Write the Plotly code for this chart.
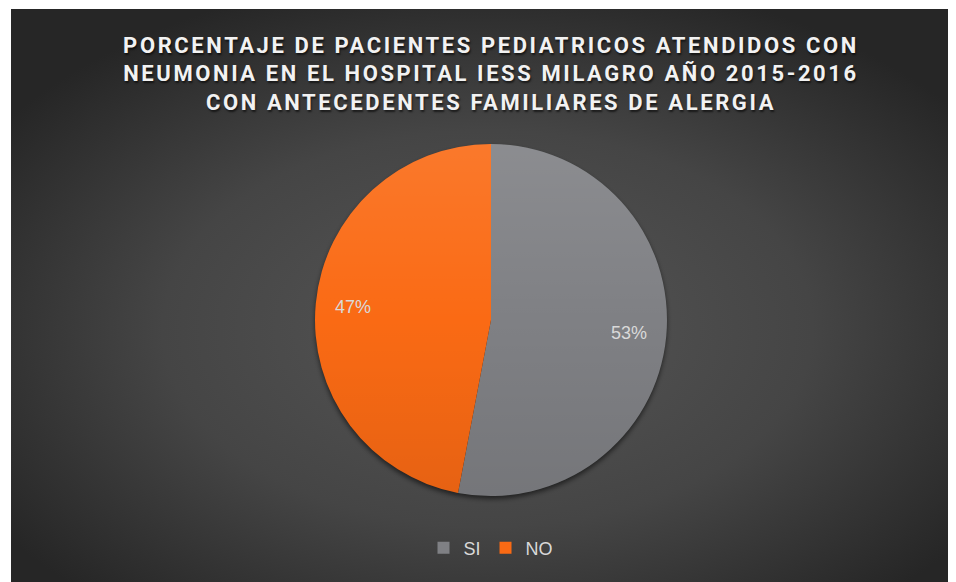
import base64
import math
import plotly.graph_objects as go

# ---- data ----
labels = ["SI", "NO"]
values = [53, 47]
colors = ["#7f8084", "#fa6a14"]
title_lines = [
    "PORCENTAJE DE PACIENTES PEDIATRICOS ATENDIDOS CON",
    "NEUMONIA EN EL HOSPITAL IESS MILAGRO AÑO 2015-2016",
    "CON ANTECEDENTES FAMILIARES DE ALERGIA",
]

W, H = 956, 582

# chart area (figure px) and pie geometry (figure px)
AX0, AY0 = 3, 1
CX, CY, R = 483, 312, 176
dom_x = [(CX - R) / W, (CX + R) / W]
dom_y = [1 - (CY + R) / H, 1 - (CY - R) / H]


def uri(svg):
    return "data:image/svg+xml;base64," + base64.b64encode(svg.encode()).decode()


AW, AH = W - AX0, H - AY0
bg_svg = (
    f"<svg xmlns='http://www.w3.org/2000/svg' width='{AW}' height='{AH}' viewBox='0 0 {AW} {AH}'>"
    "<defs><radialGradient id='g' cx='0.5' cy='0.55' r='0.62'>"
    "<stop offset='0' stop-color='#565656'/>"
    "<stop offset='0.55' stop-color='#454545'/>"
    "<stop offset='1' stop-color='#262626'/>"
    "</radialGradient>"
    "<filter id='b' x='-20%' y='-20%' width='140%' height='140%'><feGaussianBlur stdDeviation='2.5'/></filter></defs>"
    f"<rect width='{AW}' height='{AH}' fill='url(#g)'/>"
    f"<circle cx='{CX - AX0}' cy='{CY - AY0 + 3}' r='{R}' fill='#000' fill-opacity='0.55' filter='url(#b)'/>"
    "</svg>"
)

shade_svg = (
    f"<svg xmlns='http://www.w3.org/2000/svg' width='{2*R}' height='{2*R}' viewBox='0 0 {2*R} {2*R}'>"
    "<defs><linearGradient id='l' x1='0' y1='0' x2='0' y2='1'>"
    "<stop offset='0' stop-color='#fff' stop-opacity='0.10'/>"
    "<stop offset='0.5' stop-color='#fff' stop-opacity='0'/>"
    "<stop offset='0.5' stop-color='#000' stop-opacity='0'/>"
    "<stop offset='1' stop-color='#000' stop-opacity='0.08'/>"
    "</linearGradient></defs>"
    f"<circle cx='{R}' cy='{R}' r='{R}' fill='url(#l)'/></svg>"
)

fig = go.Figure(
    go.Pie(
        labels=labels,
        values=values,
        sort=False,
        direction="clockwise",
        rotation=0,
        marker=dict(colors=colors, line=dict(width=0)),
        textinfo="none",
        domain=dict(x=dom_x, y=dom_y),
        hoverinfo="label+percent",
    )
)

# percentage labels placed along each slice's bisector, derived from the data
total = sum(values)
cum = 0
annotations = []
for v in values:
    mid = (cum + v / 2) / total * 2 * math.pi
    cum += v
    px = CX + 0.79 * R * math.sin(mid)
    py = CY - 0.79 * R * math.cos(mid)
    annotations.append(
        dict(
            x=px / W, y=1 - py / H, xref="paper", yref="paper",
            text=f"{round(v / total * 100)}%", showarrow=False,
            xanchor="center", yanchor="middle",
            font=dict(family="Liberation Sans, Arial, sans-serif", size=18, color="#d9d9d9"),
        )
    )

fig.update_layout(
    width=W,
    height=H,
    margin=dict(l=0, r=0, t=0, b=0),
    paper_bgcolor="white",
    plot_bgcolor="rgba(0,0,0,0)",
    title=dict(
        text="<br>".join(title_lines),
        x=CX / W,
        xanchor="center",
        xref="paper",
        y=1 - 44.5 / H,
        yref="paper",
        yanchor="top",
        font=dict(family="Roboto, Arial, sans-serif", size=22, color="#f2f2f2",
                  weight="bold", shadow="1px 2px 2px rgba(0,0,0,0.6)"),
    ),
    showlegend=True,
    legend=dict(
        orientation="h",
        x=CX / W,
        xanchor="center",
        y=1 - 540 / H,
        yanchor="middle",
        font=dict(family="Liberation Sans, Arial, sans-serif", size=18, color="#d9d9d9"),
        bgcolor="rgba(0,0,0,0)",
        itemwidth=30,
        traceorder="normal",
    ),
    annotations=annotations,
    images=[
        dict(
            source=uri(bg_svg),
            xref="paper", yref="paper",
            x=AX0 / W, y=1 - AY0 / H,
            sizex=AW / W, sizey=AH / H,
            xanchor="left", yanchor="top",
            sizing="stretch",
            layer="below",
        ),
        dict(
            source=uri(shade_svg),
            xref="paper", yref="paper",
            x=dom_x[0], y=dom_y[1],
            sizex=dom_x[1] - dom_x[0], sizey=dom_y[1] - dom_y[0],
            xanchor="left", yanchor="top",
            sizing="stretch",
            layer="above",
        ),
    ],
)

post = """
var gd = document.getElementById('{plot_id}');
function ls(){ document.querySelectorAll('.gtitle').forEach(function(e){ e.style.letterSpacing='2.6px'; }); }
ls();
gd.on('plotly_afterplot', ls);
"""

fig.write_html("out.html", post_script=post)
